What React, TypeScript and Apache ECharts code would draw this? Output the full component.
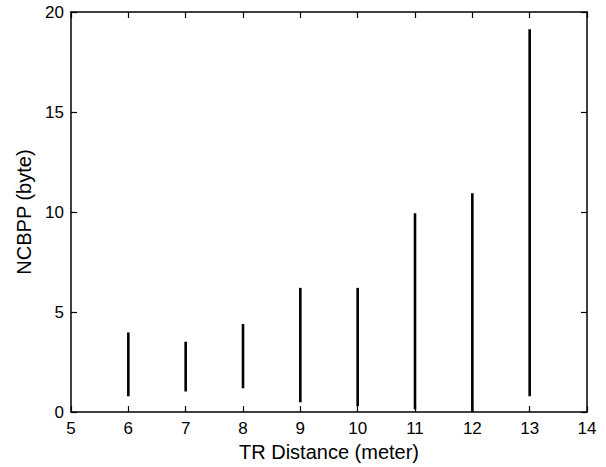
import React, { useEffect, useRef } from "react";
import * as echarts from "echarts";

const distances = [6, 7, 8, 9, 10, 11, 12, 13];
const lowValues = [0.79, 1.03, 1.19, 0.49, 0.3, 0.14, 0.0, 0.79];
const highValues = [3.98, 3.52, 4.4, 6.21, 6.21, 9.94, 10.94, 19.14];

const xTitle = "TR Distance (meter)";
const yTitle = "NCBPP (byte)";

export default function App() {
  const ref = useRef<HTMLDivElement>(null);
  useEffect(() => {
    if (!ref.current) return;
    const chart = echarts.init(ref.current, undefined, { renderer: "svg" });
    const font = "Liberation Sans, Arial, sans-serif";
    const data = distances.map((d, i) => [d, lowValues[i], highValues[i]]);
    const tickCommon = {
      axisLine: { show: true, onZero: false, lineStyle: { color: "#000", width: 1.5 } },
      axisTick: { show: true, inside: true, length: 6, lineStyle: { color: "#000", width: 1.2 } },
      splitLine: { show: false },
    };
    chart.setOption({
      animation: false,
      backgroundColor: "#fff",
      grid: { left: 71, right: 19, top: 12, bottom: 49, containLabel: false },
      xAxis: [
        {
          type: "value",
          min: 5,
          max: 14,
          interval: 1,
          position: "bottom",
          name: xTitle,
          nameLocation: "middle",
          nameGap: 27,
          nameTextStyle: { fontFamily: font, fontSize: 20, color: "#000" },
          axisLabel: { fontFamily: font, fontSize: 17, color: "#000", margin: 8 },
          ...tickCommon,
        },
        {
          type: "value",
          min: 5,
          max: 14,
          interval: 1,
          position: "top",
          axisLabel: { show: false },
          ...tickCommon,
        },
      ],
      yAxis: [
        {
          type: "value",
          min: 0,
          max: 20,
          interval: 5,
          position: "left",
          name: yTitle,
          nameLocation: "middle",
          nameGap: 35,
          nameTextStyle: { fontFamily: font, fontSize: 20, color: "#000" },
          axisLabel: { fontFamily: font, fontSize: 17, color: "#000", margin: 7 },
          ...tickCommon,
        },
        {
          type: "value",
          min: 0,
          max: 20,
          interval: 5,
          position: "right",
          axisLabel: { show: false },
          ...tickCommon,
        },
      ],
      series: [
        {
          type: "custom",
          xAxisIndex: 0,
          yAxisIndex: 0,
          data,
          encode: { x: 0, y: [1, 2] },
          renderItem: (params: any, api: any) => {
            const x = api.value(0);
            const p1 = api.coord([x, api.value(1)]);
            const p2 = api.coord([x, api.value(2)]);
            return {
              type: "line",
              shape: { x1: p1[0], y1: p1[1], x2: p2[0], y2: p2[1] },
              style: { stroke: "#000", lineWidth: 2.6 },
            };
          },
        },
      ],
    });
    return () => chart.dispose();
  }, []);
  return (
    <div
      ref={ref}
      style={{ position: "fixed", left: 0, top: 0, width: 606, height: 467 }}
    />
  );
}
